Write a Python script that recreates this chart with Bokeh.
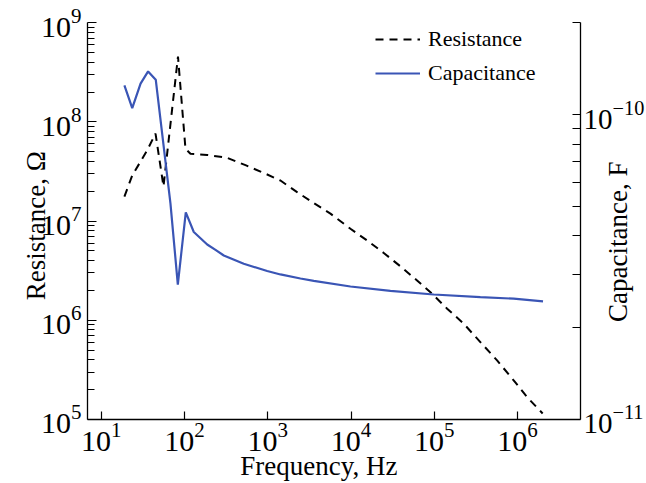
import math
from bokeh.plotting import figure
from bokeh.models import (LogAxis, Range1d, LogScale, FixedTicker, Legend,
                          LegendItem, ColumnDataSource, Label)
from bokeh.embed import file_html
from bokeh.resources import INLINE

# ---- data ----
freq_res = [19.0, 23.6, 35.6, 44.9, 56.0, 83.6, 102.8, 118, 187, 319, 540, 938,
            1420, 2250, 3570, 5660, 9840, 15600, 24700, 39200, 62100, 94100,
            142600, 225000, 357000, 567000, 897000, 1.30e6, 2.0e6]
resistance = [1.77e7, 2.89e7, 5.16e7, 7.65e7, 2.24e7, 4.57e8, 5.37e7, 4.78e7,
              4.65e7, 4.38e7, 3.67e7, 3.01e7, 2.57e7, 1.96e7, 1.52e7, 1.19e7,
              8.38e6, 6.38e6, 4.78e6, 3.50e6, 2.52e6, 1.85e6, 1.31e6, 9.25e5,
              6.03e5, 3.94e5, 2.48e5, 1.68e5, 1.15e5]

freq_cap = [19.0, 23.6, 29.7, 36.6, 45.2, 67.9, 83.2, 103.7, 129.4, 187.5, 235.7,
            296.5, 515, 984, 1420, 2470, 3570, 9840, 29700, 98400, 357000,
            897000, 2.02e6]
capacitance = [1.248e-10, 1.051e-10, 1.264e-10, 1.387e-10, 1.303e-10, 5.11e-11,
               2.77e-11, 4.78e-11, 4.12e-11, 3.75e-11, 3.60e-11, 3.45e-11,
               3.24e-11, 3.07e-11, 2.99e-11, 2.90e-11, 2.85e-11, 2.73e-11,
               2.64e-11, 2.57e-11, 2.52e-11, 2.49e-11, 2.44e-11]

x_ticks = [1e1, 1e2, 1e3, 1e4, 1e5, 1e6]
res_ticks = [1e5, 1e6, 1e7, 1e8, 1e9]
cap_ticks = [1e-11, 1e-10]

x_bounds = (6.85, 5.7e6)      # plotted frequency span
res_bounds = (1e5, 1e9)       # left axis span
cap_bounds = (1e-11, 2e-10)   # right axis span

x_title = "Frequency, Hz"
left_title = "Resistance, Ω"
right_title = "Capacitance, F"

FONT = "Liberation Serif"
BLUE = "#3A55B5"

src_r = ColumnDataSource(dict(f=freq_res, r=resistance))
src_c = ColumnDataSource(dict(f=freq_cap, c=capacitance))

# the frame covers the whole canvas; axes sit at fixed data locations
p = figure(width=646, height=483, x_axis_type="log", y_axis_type="log",
           x_range=Range1d(0.618, 3.53e7), y_range=Range1d(2.26e4, 1.68e9),
           output_backend="svg", toolbar_location=None,
           min_border=0, min_border_left=0, min_border_right=0,
           min_border_top=0, min_border_bottom=0)
p.outline_line_color = None
p.grid.visible = False
p.background_fill_color = "white"
p.border_fill_color = "white"

p.extra_y_ranges = {"cap": Range1d(6.16e-12, 2.37e-10)}
p.extra_y_scales = {"cap": LogScale()}


def style(ax, size="30px"):
    ax.axis_line_color = "black"
    ax.axis_line_width = 1.3
    ax.major_tick_line_color = "black"
    ax.minor_tick_line_color = "black"
    ax.major_tick_line_width = 1.2
    ax.minor_tick_line_width = 1.2
    ax.major_tick_out = 0
    ax.minor_tick_out = 0
    ax.major_tick_in = 9
    ax.minor_tick_in = 7
    ax.major_label_text_font = FONT
    ax.major_label_text_font_size = size
    ax.major_label_text_color = "black"


# bottom axis
xa = p.xaxis[0]
style(xa)
xa.ticker = FixedTicker(ticks=x_ticks)
xa.minor_tick_line_color = None
xa.major_tick_in = 8
xa.major_label_standoff = 4
xa.fixed_location = res_bounds[0]
xa.bounds = x_bounds

# left axis
ya = p.yaxis[0]
style(ya)
ya.ticker = FixedTicker(
    ticks=res_ticks,
    minor_ticks=[m * t for t in res_ticks[:-1] for m in range(2, 10)])
ya.major_label_standoff = 6
ya.fixed_location = x_bounds[0]
ya.bounds = res_bounds

# right axis
ra = LogAxis(y_range_name="cap",
             ticker=FixedTicker(
                 ticks=cap_ticks,
                 minor_ticks=[m * cap_ticks[0] for m in range(2, 10)] + [2 * cap_ticks[1]]))
style(ra, "29px")
ra.major_tick_in = 8
ra.minor_tick_in = 8
ra.major_label_standoff = 3
ra.fixed_location = x_bounds[1]
ra.bounds = cap_bounds
p.add_layout(ra, "right")

r1 = p.line("f", "r", source=src_r, line_color="black", line_width=2,
            line_dash="8 6")
r2 = p.line("f", "c", source=src_c, line_color=BLUE, line_width=2.2,
            y_range_name="cap")

# axis titles
title_kw = dict(text_font=FONT, text_font_size="27px", text_align="center",
                text_baseline="middle", text_color="black")
p.add_layout(Label(x=4.1e3, y=3.4e4, text=x_title, **title_kw))
p.add_layout(Label(x=1.63, y=9.0e6, text=left_title, angle=math.pi / 2,
                   **title_kw))
p.add_layout(Label(x=1.62e7, y=6.2e6, text=right_title, angle=math.pi / 2,
                   **title_kw))

legend = Legend(items=[LegendItem(label="Resistance", renderers=[r1]),
                       LegendItem(label="Capacitance", renderers=[r2])],
                location=(375, 397), padding=0, margin=0, spacing=8,
                glyph_width=45, glyph_height=24, label_height=24,
                label_standoff=8, border_line_color=None,
                background_fill_alpha=0, label_text_font=FONT,
                label_text_font_size="22px", label_text_color="black")
p.add_layout(legend)

open("out.html", "w").write(file_html(p, INLINE))
